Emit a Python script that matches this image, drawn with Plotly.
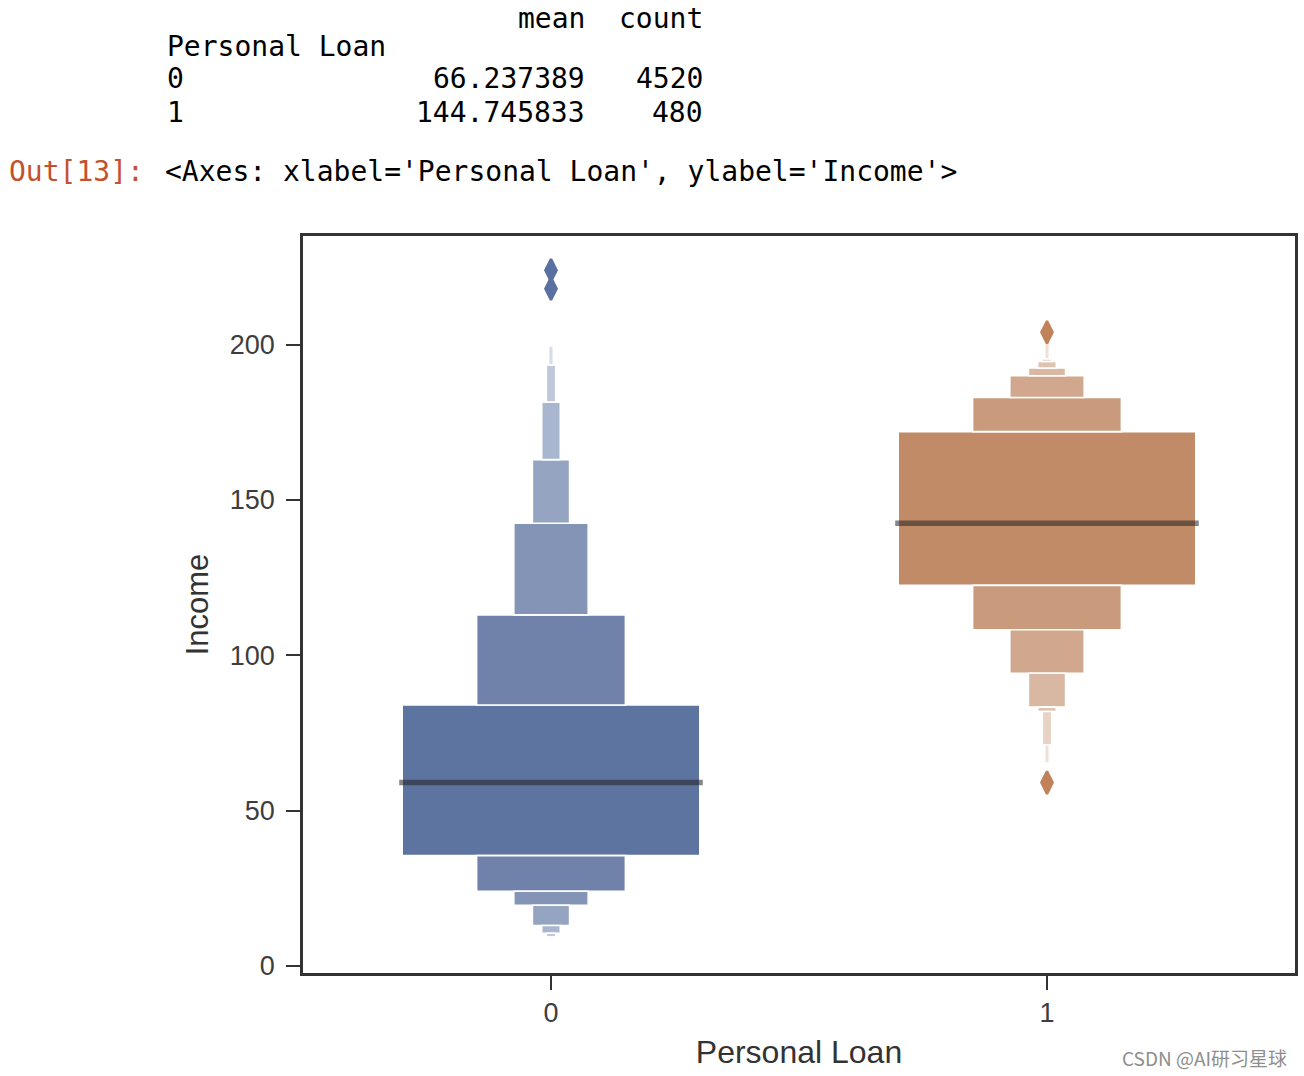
import plotly.graph_objects as go

# ---------------- data ----------------
groups = [0, 1]
group_labels = ["0", "1"]
medians = [59, 142.5]
# letter-value edges, going outward from the box (level 1 = quartiles)
upper_lv = [
    [84, 113, 142.5, 163, 181.5, 193.5, 199.5],
    [172, 183, 190, 192.5, 194.6, 195.5, 201.5],
]
lower_lv = [
    [35.5, 24, 19.5, 13, 10.5, 9.3, 8.6],
    [122.5, 108.2, 94.2, 83.3, 81.9, 71.2, 65.3],
]
outliers = [[218, 224], [59, 204]]
y_ticks = [0, 50, 100, 150, 200]

table_index_name = "Personal Loan"
table_columns = ["mean", "count"]
table_index = ["0", "1"]
means = ["66.237389", "144.745833"]
counts = ["4520", "480"]

# ---------------- styles ----------------
level_widths = [0.6, 0.3, 0.15, 0.075, 0.0375, 0.019, 0.0095]
level_colors = [
    ["#5e74a0", "#7182aa", "#8494b6", "#95a4c0", "#a8b6cf", "#c0c9db", "#d7dde8"],
    ["#c18b68", "#c99a7c", "#d1a88d", "#d8b8a2", "#dec3b2", "#e8d2c4", "#f0e1d7"],
]
outlier_colors = ["#5a70a0", "#c1825a"]
W, H = 1304, 1076
L, R, T, B = 303, 9, 236, 103
PW, PH = W - L - R, H - T - B

fig = go.Figure()

for gi, g in enumerate(groups):
    up = upper_lv[gi]
    lo = lower_lv[gi]
    for k in range(len(level_widths)):
        if k == 0:
            bases = [lo[0]]
            heights = [up[0] - lo[0]]
        else:
            bases = [up[k - 1], lo[k]]
            heights = [up[k] - up[k - 1], lo[k - 1] - lo[k]]
        fig.add_trace(go.Bar(
            x=[g] * len(bases), base=bases, y=heights,
            width=level_widths[k],
            marker=dict(color=level_colors[gi][k], line=dict(color="white", width=1.6)),
            showlegend=False, hoverinfo="skip",
        ))
    # outliers
    fig.add_trace(go.Scatter(
        x=[g] * len(outliers[gi]), y=outliers[gi], mode="markers",
        marker=dict(symbol="diamond-tall", size=16, color=outlier_colors[gi],
                    line=dict(color=outlier_colors[gi], width=2.5)),
        showlegend=False, hoverinfo="skip",
    ))

# median lines
for gi, g in enumerate(groups):
    fig.add_trace(go.Scatter(
        x=[g - 0.306, g + 0.306], y=[medians[gi], medians[gi]], mode="lines",
        line=dict(color="rgba(35,35,35,0.55)", width=5.5),
        showlegend=False, hoverinfo="skip",
    ))

axis_common = dict(
    showline=True, mirror=True, linecolor="#333333", linewidth=2.5,
    ticks="outside", ticklen=14, tickwidth=2.2, tickcolor="#333333",
    showgrid=False, zeroline=False,
    tickfont=dict(family="Liberation Sans, Arial, sans-serif", size=27, color="#3d3d3d"),
)

fig.update_layout(
    width=W, height=H,
    margin=dict(l=L, r=R, t=T, b=B, autoexpand=False),
    plot_bgcolor="white", paper_bgcolor="white",
    barmode="overlay",
    xaxis=dict(range=[-0.5, 1.5], tickvals=groups, ticktext=group_labels,
               title=dict(text="Personal Loan", standoff=14,
                          font=dict(family="Liberation Sans, Arial, sans-serif", size=32, color="#333333")),
               **axis_common),
    yaxis=dict(range=[-2.3, 235], tickvals=y_ticks, ticklabelstandoff=6,
               title=dict(text="Income", standoff=12,
                          font=dict(family="Liberation Sans, Arial, sans-serif", size=31, color="#333333")),
               **axis_common),
)


def px_x(px):
    return (px - L) / PW


def px_y(py):
    return (H - B - py) / PH


mono = dict(family="DejaVu Sans Mono, monospace", size=28, color="black")
anns = []


def add_text(text, x, y, anchor, font):
    anns.append(dict(text=text, x=px_x(x), y=px_y(y), xref="paper", yref="paper",
                     xanchor=anchor, yanchor="middle", showarrow=False, font=font,
                     borderpad=0))


add_text(table_columns[0], 586, 19, "right", mono)
add_text(table_columns[1], 704, 19, "right", mono)
add_text(table_index_name, 166, 47, "left", mono)
for i, (idx, m, c) in enumerate(zip(table_index, means, counts)):
    yy = 79 + 34 * i
    add_text(idx, 166, yy, "left", mono)
    add_text(m, 586, yy, "right", mono)
    add_text(c, 704, yy, "right", mono)

add_text("Out[13]:", 8, 172, "left", dict(family="DejaVu Sans Mono, monospace", size=28, color="#c5502e"))
add_text("&lt;Axes: xlabel='Personal Loan', ylabel='Income'&gt;", 164, 172, "left", mono)
add_text("CSDN @AI研习星球", 1288, 1057, "right",
         dict(family="Noto Sans CJK SC, sans-serif", size=19, color="#8e8e8e"))

fig.update_layout(annotations=anns)

fig.write_html("out.html", config={"displayModeBar": False},
               post_script="document.body.style.margin='0';")
